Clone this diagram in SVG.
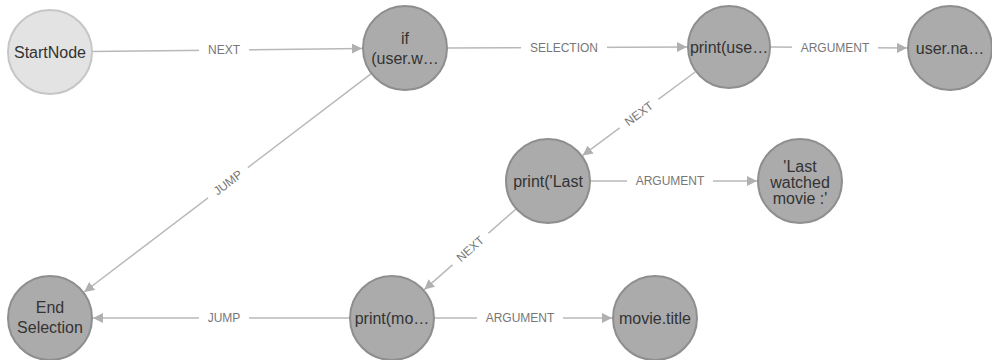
<svg xmlns="http://www.w3.org/2000/svg" width="992" height="360" viewBox="0 0 992 360">
<style>
  .node circle { fill: #ababab; stroke: #8e8e8e; stroke-width: 2; }
  #n-start circle { fill: #e3e3e3; stroke: #c6c6c6; }
  .node text { font-family: "Liberation Sans", Arial, sans-serif; font-size: 16px; fill: #333333; text-anchor: middle; }
  .edge line { stroke: #b8b8b8; stroke-width: 1.5; fill: none; }
  .lbl rect { fill: #ffffff; }
  .lbl text { font-family: "Liberation Sans", Arial, sans-serif; font-size: 12px; fill: #777777; text-anchor: middle; dominant-baseline: central; }
</style>
<defs>
  <marker id="arr" viewBox="0 0 10 10" refX="10" refY="5" markerWidth="10" markerHeight="10" markerUnits="userSpaceOnUse" orient="auto">
    <path d="M0,0 L10,5 L0,10 Z" fill="#b0b0b0"/>
  </marker>
</defs>
<rect width="992" height="360" fill="#ffffff"/>
<g id="connectors">
  <g class="edge"><line x1="92" y1="51.5" x2="362" y2="48.5" marker-end="url(#arr)"/>
    <g class="lbl" transform="translate(224,50)"><rect x="-25" y="-8" width="50" height="16"/><text>NEXT</text></g></g>
  <g class="edge"><line x1="447" y1="48" x2="687" y2="47" marker-end="url(#arr)"/>
    <g class="lbl" transform="translate(564,47.5)"><rect x="-43" y="-8" width="86" height="16"/><text>SELECTION</text></g></g>
  <g class="edge"><line x1="770" y1="47" x2="907" y2="48" marker-end="url(#arr)"/>
    <g class="lbl" transform="translate(835,47.5)"><rect x="-43" y="-8" width="86" height="16"/><text>ARGUMENT</text></g></g>
  <g class="edge"><line x1="695.2" y1="72" x2="582.6" y2="155.4" marker-end="url(#arr)"/>
    <g class="lbl" transform="translate(639,113.7) rotate(-36.5)"><rect x="-24" y="-8" width="48" height="16"/><text>NEXT</text></g></g>
  <g class="edge"><line x1="590" y1="181" x2="757" y2="181" marker-end="url(#arr)"/>
    <g class="lbl" transform="translate(670,181)"><rect x="-43" y="-8" width="86" height="16"/><text>ARGUMENT</text></g></g>
  <g class="edge"><line x1="516.4" y1="208.7" x2="424.3" y2="289.6" marker-end="url(#arr)"/>
    <g class="lbl" transform="translate(470.4,249) rotate(-41.3)"><rect x="-24" y="-8" width="48" height="16"/><text>NEXT</text></g></g>
  <g class="edge"><line x1="371.6" y1="73.4" x2="84.2" y2="292" marker-end="url(#arr)"/>
    <g class="lbl" transform="translate(228,182.7) rotate(-37.3)"><rect x="-25" y="-8" width="50" height="16"/><text>JUMP</text></g></g>
  <g class="edge"><line x1="350" y1="318" x2="93" y2="318" marker-end="url(#arr)"/>
    <g class="lbl" transform="translate(224,318)"><rect x="-25" y="-8" width="50" height="16"/><text>JUMP</text></g></g>
  <g class="edge"><line x1="434" y1="318" x2="612" y2="318" marker-end="url(#arr)"/>
    <g class="lbl" transform="translate(520,318)"><rect x="-43" y="-8" width="86" height="16"/><text>ARGUMENT</text></g></g>
</g>
<g id="n-start" class="node"><circle cx="50" cy="52" r="42"/><text x="50" y="58">StartNode</text></g>
<g id="n-if" class="node"><circle cx="405" cy="48" r="42"/><text x="405" y="44">if</text><text x="405" y="64">(user.w…</text></g>
<g id="n-printuser" class="node"><circle cx="729" cy="47" r="41"/><text x="729" y="53">print(use…</text></g>
<g id="n-username" class="node"><circle cx="950" cy="48" r="42"/><text x="950" y="54">user.na…</text></g>
<g id="n-printlast" class="node"><circle cx="548" cy="181" r="42"/><text x="548" y="187">print('Last</text></g>
<g id="n-lastwatched" class="node"><circle cx="800" cy="181" r="42"/><text x="800" y="172">'Last</text><text x="800" y="188">watched</text><text x="800" y="204">movie :'</text></g>
<g id="n-end" class="node"><circle cx="50" cy="318" r="42"/><text x="50" y="313">End</text><text x="50" y="333">Selection</text></g>
<g id="n-printmovie" class="node"><circle cx="392" cy="318" r="42"/><text x="392" y="324">print(mo…</text></g>
<g id="n-movietitle" class="node"><circle cx="655" cy="318" r="42"/><text x="655" y="324">movie.title</text></g>
</svg>
